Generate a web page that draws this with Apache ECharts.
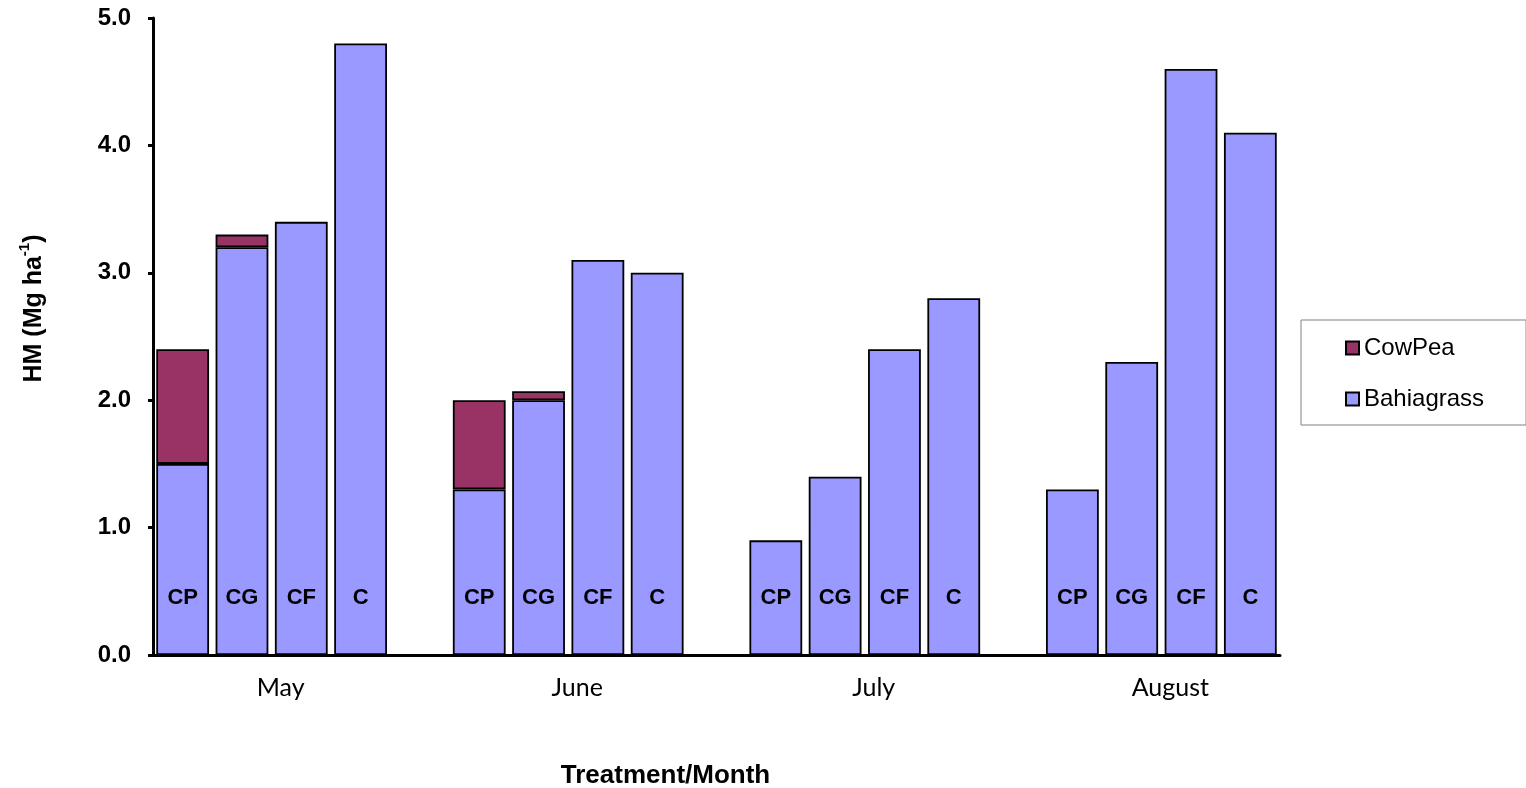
<!DOCTYPE html>
<html>
<head>
<meta charset="utf-8">
<script src="https://cdn.jsdelivr.net/npm/echarts@6/dist/echarts.min.js"></script>
<style>
html,body{margin:0;padding:0;background:#fff;}
#chart{width:1526px;height:788px;}
</style>
</head>
<body>
<div id="chart"></div>
<script>
// ---- data ----
var months = ['May', 'June', 'July', 'August'];
var treatments = ['CP', 'CG', 'CF', 'C'];
// values per month, in treatment order CP, CG, CF, C
var bahiagrass = [
  [1.5, 3.2, 3.4, 4.8],
  [1.3, 2.0, 3.1, 3.0],
  [0.9, 1.4, 2.4, 2.8],
  [1.3, 2.3, 4.6, 4.1]
];
var cowpea = [
  [0.9, 0.1, null, null],
  [0.7, 0.07, null, null],
  [null, null, null, null],
  [null, null, null, null]
];
var yTicks = [0, 1, 2, 3, 4, 5];

// ---- build category slots (4 bars + 1 gap per month) ----
var cats = [], bahiaData = [], cowData = [], monthPos = {};
months.forEach(function (m, mi) {
  treatments.forEach(function (t, ti) {
    cats.push(m + '-' + t);
    bahiaData.push({ value: bahiagrass[mi][ti], treat: t });
    cowData.push(cowpea[mi][ti] == null ? '-' : cowpea[mi][ti]);
  });
  monthPos[mi * 5 + 2] = m;
  if (mi < months.length - 1) {
    cats.push('gap' + mi);
    bahiaData.push('-');
    cowData.push('-');
  }
});

var chart = echarts.init(document.getElementById('chart'));
var boldArial = { fontFamily: 'Liberation Sans, Arial', fontWeight: 'bold', color: '#000' };

chart.setOption({
  animation: false,
  backgroundColor: '#fff',
  grid: { left: 153, right: 246, top: 18, bottom: 133, containLabel: false, outerBoundsMode: 'none' },
  legend: {
    orient: 'vertical',
    left: 1301,
    top: 320,
    padding: [16, 42, 14, 44],
    itemGap: 27,
    itemWidth: 13,
    itemHeight: 13,
    icon: 'rect',
    borderColor: '#808080',
    borderWidth: 1,
    textStyle: { fontFamily: 'Liberation Sans, Arial', fontSize: 24, color: '#000' },
    data: ['CowPea', 'Bahiagrass']
  },
  xAxis: [
    {
      type: 'category',
      data: cats,
      boundaryGap: true,
      axisLine: { show: true, lineStyle: { color: '#000', width: 3 } },
      axisTick: { show: false },
      axisLabel: { show: false },
      splitLine: { show: false },
      name: 'Treatment/Month',
      nameLocation: 'middle',
      nameGap: 108,
      nameTextStyle: Object.assign({ fontSize: 26, padding: [0, 102, 0, 0] }, boldArial)
    },
    {
      type: 'value',
      position: 'bottom',
      min: 0,
      max: cats.length,
      interval: 1,
      axisLine: { show: false },
      axisTick: { show: false },
      splitLine: { show: false },
      axisLabel: {
        show: true,
        margin: 20,
        showMinLabel: true,
        showMaxLabel: true,
        fontFamily: 'Lato, Open Sans, sans-serif',
        fontSize: 25,
        color: '#000',
        padding: [0, 0, 0, 18],
        formatter: function (v) { return monthPos[Math.round(v)] || ''; }
      }
    }
  ],
  yAxis: {
    type: 'value',
    min: yTicks[0],
    max: yTicks[yTicks.length - 1],
    interval: 1,
    axisLine: { show: true, lineStyle: { color: '#000', width: 3 } },
    axisTick: { show: true, length: 5, lineStyle: { color: '#000', width: 3 } },
    splitLine: { show: false },
    axisLabel: Object.assign({ fontSize: 24, margin: 22, formatter: function (v) { return v.toFixed(1); } }, boldArial),
    name: '{a|HM (Mg ha}{s|-1}{a|)}',
    nameLocation: 'middle',
    nameRotate: 90,
    nameGap: 106,
    nameTextStyle: {
      padding: [0, 0, 0, 56],
      rich: {
        a: Object.assign({ fontSize: 25, lineHeight: 30, verticalAlign: 'bottom' }, boldArial),
        s: Object.assign({ fontSize: 15, lineHeight: 30, verticalAlign: 'top' }, boldArial)
      }
    }
  },
  series: [
    {
      name: 'Bahiagrass',
      type: 'bar',
      stack: 'hm',
      xAxisIndex: 0,
      barWidth: '89%',
      data: bahiaData,
      itemStyle: { color: '#9999FF', borderColor: '#000', borderWidth: 1.8 },
      label: {
        show: true,
        position: 'insideBottom',
        distance: 46,
        fontFamily: 'Liberation Sans, Arial',
        fontWeight: 'bold',
        fontSize: 22,
        color: '#000',
        formatter: function (p) { return p.data.treat; }
      }
    },
    {
      name: 'CowPea',
      type: 'bar',
      stack: 'hm',
      xAxisIndex: 0,
      barWidth: '89%',
      data: cowData,
      itemStyle: { color: '#993366', borderColor: '#000', borderWidth: 1.8 }
    }
  ]
});
</script>
</body>
</html>
